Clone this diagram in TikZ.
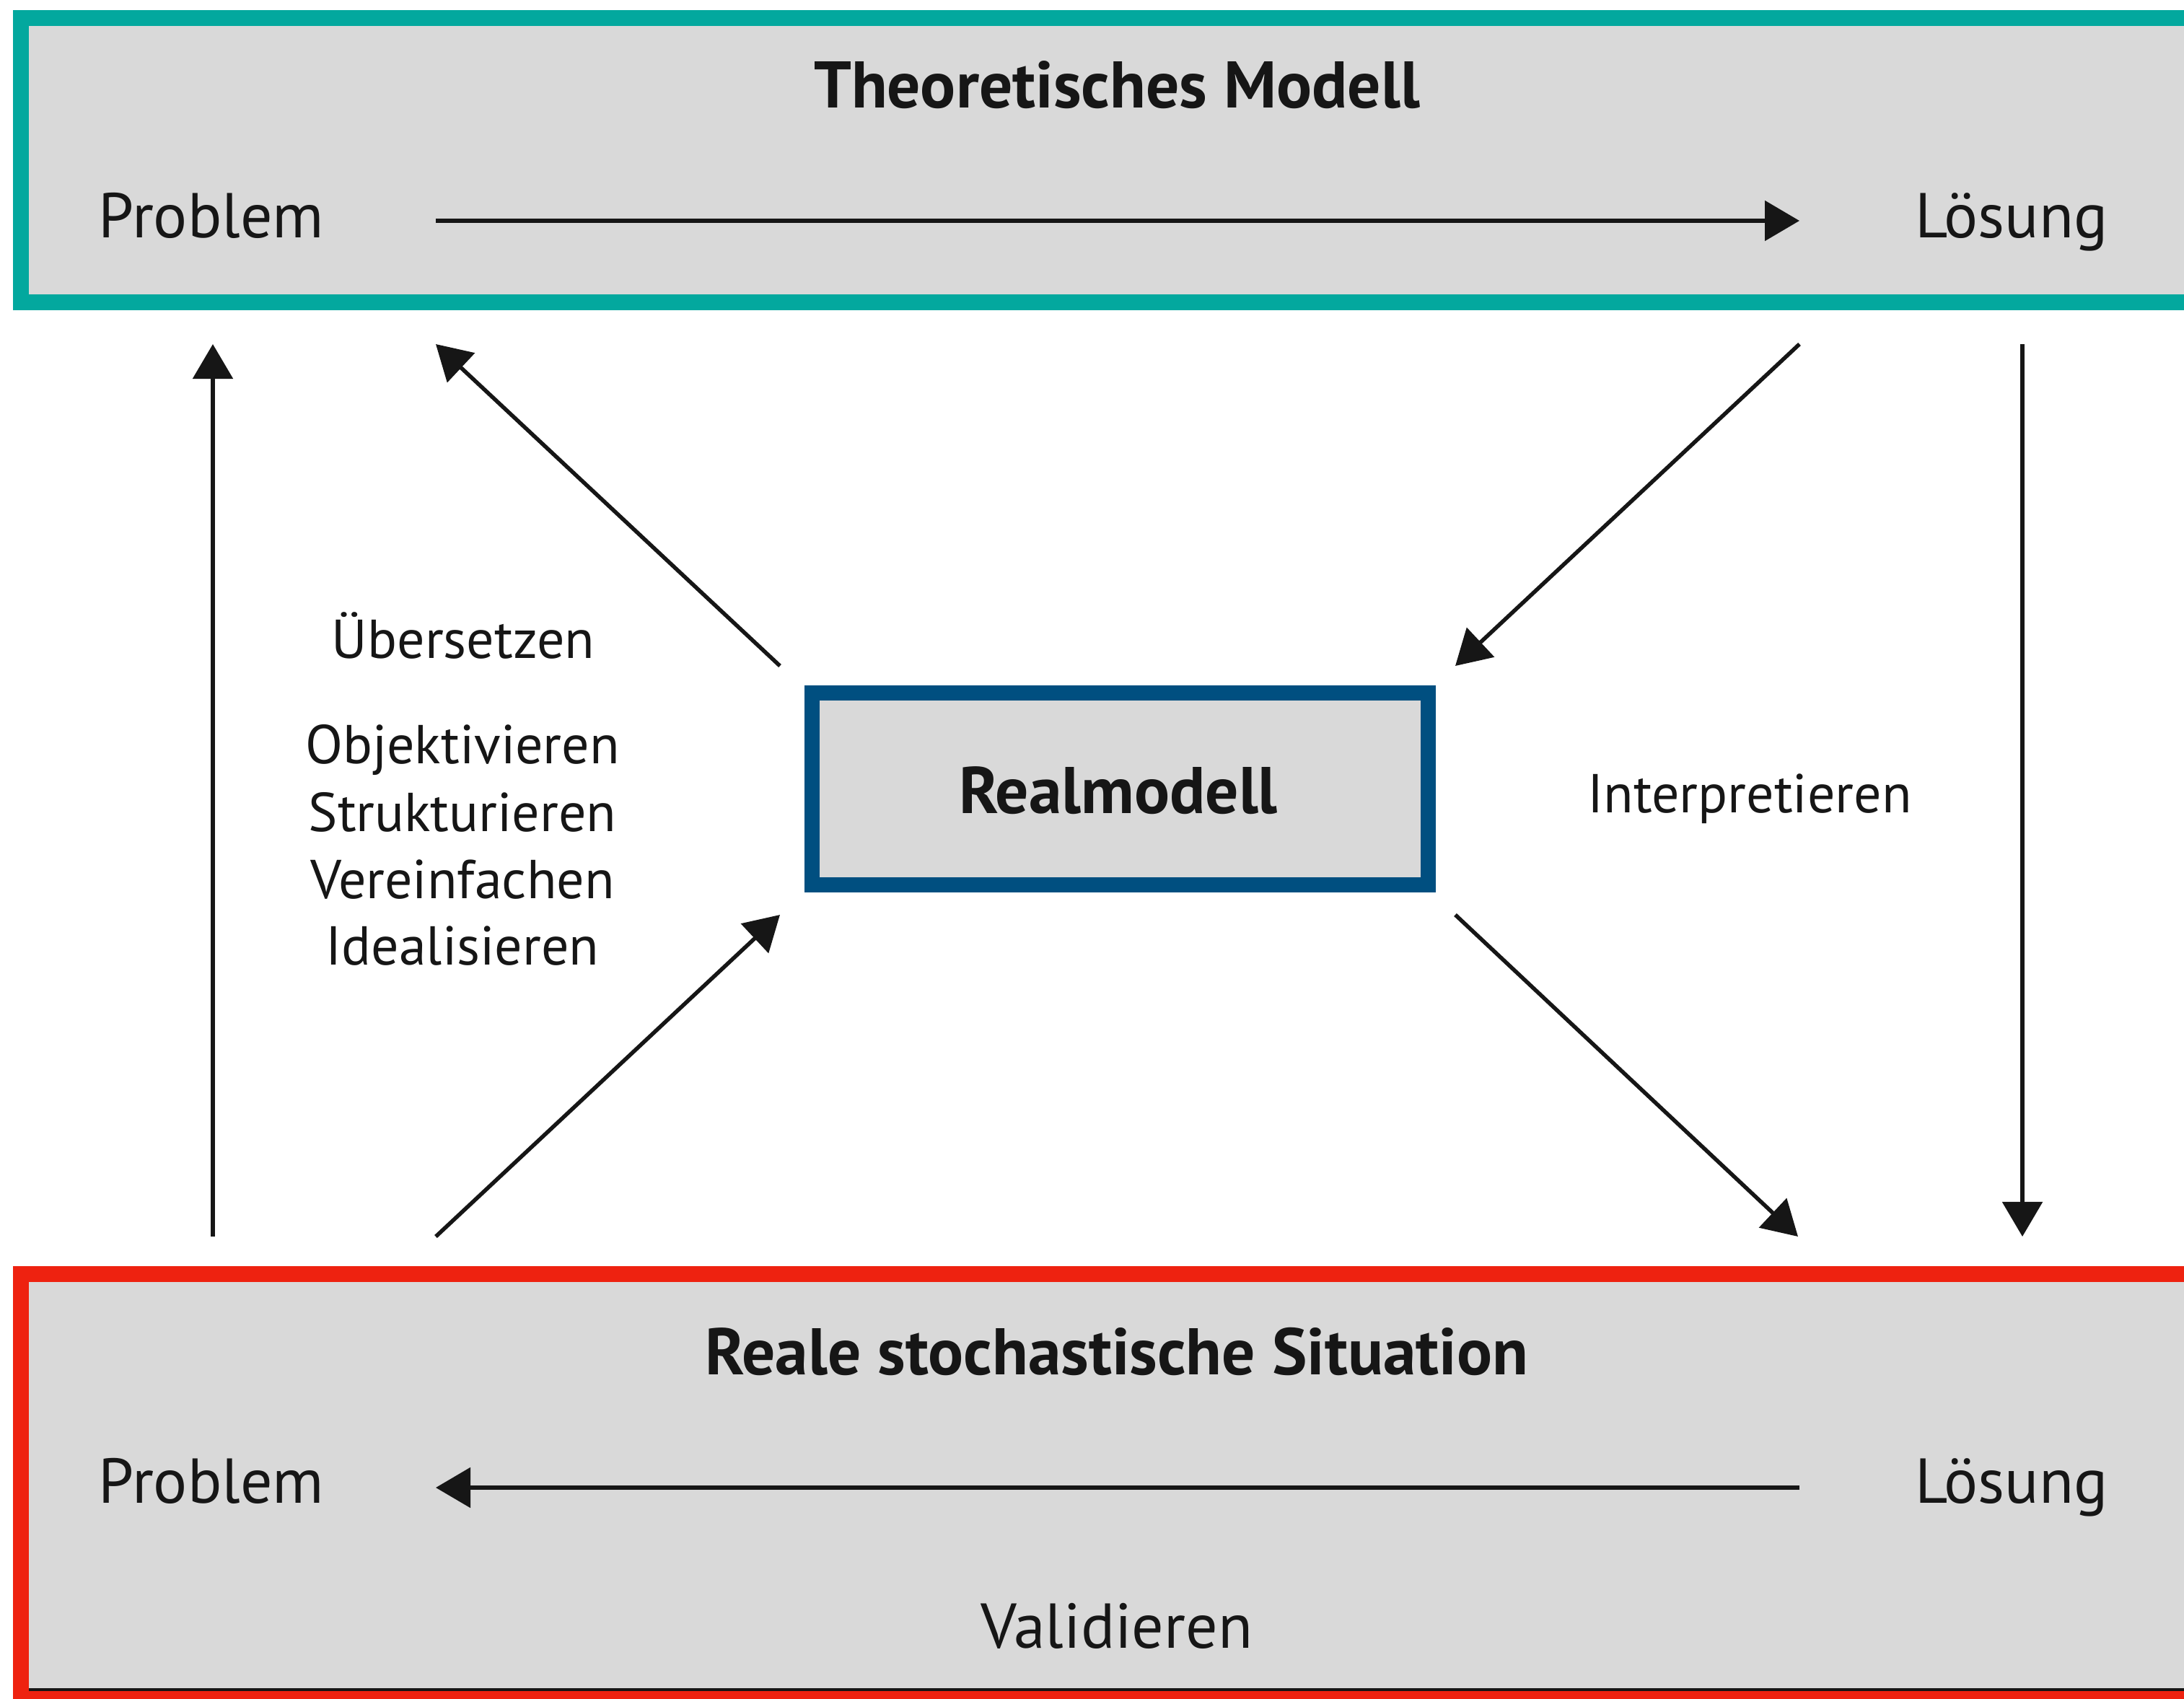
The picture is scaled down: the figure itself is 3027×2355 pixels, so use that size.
\documentclass[tikz,border=0pt]{standalone}
\usepackage{fontspec}
\setmainfont{PT Sans}
\usetikzlibrary{arrows.meta}
\definecolor{tealframe}{RGB}{3,168,158}
\definecolor{redframe}{RGB}{238,34,16}
\definecolor{blueframe}{RGB}{0,79,128}
\definecolor{boxgray}{RGB}{217,217,217}
\definecolor{ink}{RGB}{22,22,22}
\begin{document}
\begin{tikzpicture}[x=0.01cm,y=-0.01cm,
  arr/.style={-{Triangle[length=0.48cm,width=0.55cm]}, line width=0.055cm, draw=ink},
  bigtext/.style={font=\fontsize{25pt}{29pt}\selectfont, text=ink, inner sep=0pt, anchor=base},
  boldtext/.style={font=\fontsize{26pt}{30pt}\selectfont\bfseries, text=ink, inner sep=0pt, anchor=base},
  smalltext/.style={font=\fontsize{21.6pt}{26pt}\selectfont, text=ink, inner sep=0pt, anchor=base},
  frame/.style={line width=0.22cm, fill=boxgray}]
\useasboundingbox (0,0) rectangle (3027,2355);
\clip (0,0) rectangle (3027,2355);
% frames
\draw[frame, draw=tealframe] (29,25) rectangle (3120,419);
\draw[frame, draw=redframe] (29,1766) rectangle (3120,2355);
\draw[draw=ink, line width=0.04cm] (40,2342) -- (3040,2342);
\node (rm) [draw=blueframe, line width=0.21cm, fill=boxgray, minimum width=8.54cm, minimum height=2.66cm, inner sep=0pt] at (1552.5,1093.5) {};
% texts
\node (ttitle) [boldtext] at (1548,150) {Theoretisches Modell};
\node (tprob) [bigtext] at (293,330) {Problem};
\node (tloes) [bigtext] at (2788,330) {Lösung};
\node (btitle) [boldtext] at (1548,1905) {Reale stochastische Situation};
\node (bprob) [bigtext] at (293,2083) {Problem};
\node (bloes) [bigtext] at (2788,2083) {Lösung};
\node (valid) [bigtext] at (1548,2284) {Validieren};
\node (rmtext) [boldtext] at (1550,1127) {Realmodell};
\node (l1) [smalltext] at (642,912) {Übersetzen};
\node (l2) [smalltext] at (641,1058) {Objektivieren};
\node (l3) [smalltext] at (641,1152) {Strukturieren};
\node (l4) [smalltext] at (641,1245) {Vereinfachen};
\node (l5) [smalltext] at (641,1337) {Idealisieren};
\node (interp) [smalltext] at (2425,1126) {Interpretieren};
% connector end points
\coordinate (ta) at (604,306);
\coordinate (tb) at (2494,306);
\coordinate (ba) at (2494,2062);
\coordinate (bb) at (604,2062);
\coordinate (lvb) at (295,1714);
\coordinate (lvt) at (295,477);
\coordinate (rvt) at (2803,477);
\coordinate (rvb) at (2803,1714);
\coordinate (d1s) at (1081,923);
\coordinate (d1e) at (604,477);
\coordinate (d2s) at (2494,477);
\coordinate (d2e) at (2017,923);
\coordinate (d3s) at (604,1714);
\coordinate (d3e) at (1081,1268);
\coordinate (d4s) at (2017,1268);
\coordinate (d4e) at (2492,1714);
% connectors
\draw[arr] (ta) -- (tb);
\draw[arr] (ba) -- (bb);
\draw[arr] (lvb) -- (lvt);
\draw[arr] (rvt) -- (rvb);
\draw[arr] (d1s) -- (d1e);
\draw[arr] (d2s) -- (d2e);
\draw[arr] (d3s) -- (d3e);
\draw[arr] (d4s) -- (d4e);
\end{tikzpicture}
\end{document}
